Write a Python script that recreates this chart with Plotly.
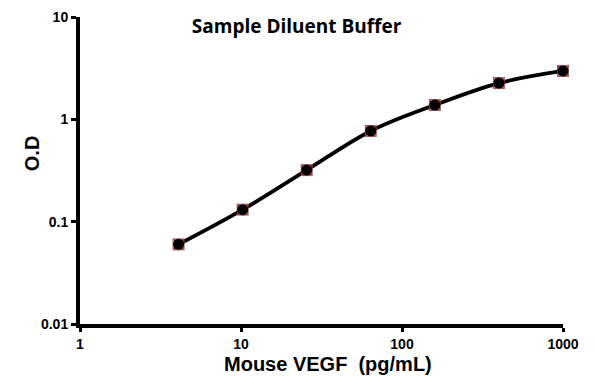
import plotly.graph_objects as go

conc = [4.096, 10.24, 25.6, 64, 160, 400, 1000]
od = [0.060, 0.131, 0.319, 0.77, 1.38, 2.26, 2.97]
x_ticks = [1, 10, 100, 1000]
x_tick_labels = ["1", "10", "100", "1000"]
y_ticks = [0.01, 0.1, 1, 10]
y_tick_labels = ["0.01", "0.1", "1", "10"]
title_text = "Sample Diluent Buffer"
x_title = "Mouse VEGF  (pg/mL)"
y_title = "O.D"

fig = go.Figure()
fig.add_trace(go.Scatter(
    x=conc, y=od, mode="lines", line=dict(color="black", width=3.8, shape="spline", smoothing=1.0),
    hoverinfo="skip", showlegend=False, cliponaxis=False))
fig.add_trace(go.Scatter(
    x=conc, y=od, mode="markers",
    marker=dict(symbol="square", size=12, color="rgba(160,60,60,0.85)", line=dict(width=0)),
    showlegend=False, cliponaxis=False))
fig.add_trace(go.Scatter(
    x=conc, y=od, mode="markers",
    marker=dict(symbol="circle", size=11, color="black", line=dict(width=0)),
    showlegend=False, cliponaxis=False))

axis_font = dict(family="Liberation Sans, Arial", size=14, color="black")
title_font = dict(family="Liberation Sans, Arial", size=20, color="black")
fig.update_layout(
    width=595, height=384,
    margin=dict(l=72, r=40, t=9, b=68),
    paper_bgcolor="white", plot_bgcolor="white",
    title=dict(text="<b>%s</b>" % title_text, x=0.485, xanchor="center", y=0.952, yanchor="middle",
               font=dict(family="Open Sans, Lato", size=19, color="black")),
    xaxis=dict(type="log", range=[0, 3], tickvals=x_ticks,
               ticktext=["<b>%s</b>" % t for t in x_tick_labels], automargin=False,
               showline=True, linecolor="black", linewidth=4, ticks="outside", ticklen=4, tickwidth=3,
               tickcolor="black", showgrid=False, zeroline=False, tickfont=axis_font),
    yaxis=dict(type="log", range=[-2, 1], tickvals=y_ticks,
               ticktext=["<b>%s</b>" % t for t in y_tick_labels], automargin=False,
               showline=True, linecolor="black", linewidth=4, ticks="outside", ticklen=5, tickwidth=3,
               tickcolor="black", showgrid=False, zeroline=False, tickfont=axis_font),
    annotations=[
        dict(text="<b>%s</b>" % x_title, xref="paper", yref="paper", x=0.513, y=-0.13,
             xanchor="center", yanchor="middle", showarrow=False, font=title_font),
        dict(text="<b>%s</b>" % y_title, xref="paper", yref="paper", x=-0.099, y=0.557,
             xanchor="center", yanchor="middle", showarrow=False, textangle=-90, font=title_font),
    ],
)
fig.write_html("out.html")
